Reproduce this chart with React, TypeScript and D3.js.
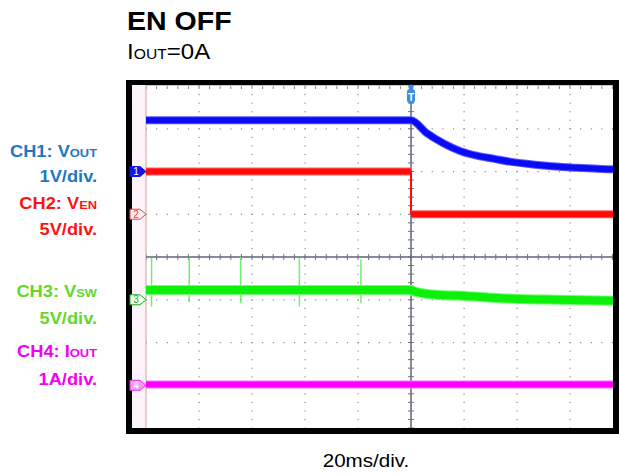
import * as d3 from 'd3';

const W = 619;
const H = 475;
const SX = 1.12; // the screenshot is stretched a little horizontally

const title = 'EN OFF';
const loadMain = 'I';
const loadSub = 'OUT';
const loadValue = '=0A';
const timeBase = '20ms/div.';

// channel setup
const channelNames = ['CH1', 'CH2', 'CH3', 'CH4'];
const signalBase = ['V', 'V', 'V', 'I'];
const signalSub = ['OUT', 'EN', 'SW', 'OUT'];
const scaleLabels = ['1V/div.', '5V/div.', '5V/div.', '1A/div.'];
const unitsPerDiv = [1, 5, 5, 1];
const groundDiv = [2, 1, -1, -3];

// CH1 VOUT (ms, V)
const voutT = [-100, 0, 5.9, 12.2, 18.5, 24.8, 31.1, 37.4, 43.7, 50.0, 56.2, 62.5, 68.8, 76.2, 80];
const voutV = [1.2, 1.2, 0.9, 0.66, 0.48, 0.37, 0.3, 0.23, 0.18, 0.14, 0.11, 0.09, 0.07, 0.05, 0.045];

// CH2 VEN (ms, V)
const venT = [-100, 0, 0, 80];
const venV = [5, 5, 0, 0];

// CH3 VSW (ms, V)
const vswT = [-100, 0, 0.5, 4.6, 10.9, 20.6, 31, 40.5, 51.2, 60.6, 76.2, 80];
const vswV = [1.14, 1.14, 1.06, 0.75, 0.56, 0.44, 0.24, 0.09, 0.02, -0.03, -0.11, -0.12];
const spikeT = [-97.9, -83.7, -64.3, -42.1, -18.9];
const spikeHigh = [4.9, 4.9, 5.0, 4.9, 4.7];
const spikeLow = [-0.8, -0.25, -0.4, -0.8, -0.4];

// CH4 IOUT (ms, A)
const ioutT = [-100, 80];
const ioutV = [0.02, 0.02];

const traceColors = ['#0a0af5', '#ff0a0a', '#0cf00c', '#ff00ff'];
const traceHalo = ['#5a5aff', '#ff6060', '#70ff70', '#ff70ff'];
const traceWidths = [6, 6, 8, 6];
const labelColors = ['#1d78c4', '#ff1212', '#63d82a', '#f200f2'];
const markerFill = ['#1414e6', '#fff0f0', '#f0fff0', '#f49cf4'];
const markerStroke = ['#1414e6', '#ff3c3c', '#28a828', '#e030e0'];
const markerText = ['#ffffff', '#ff3030', '#28a828', '#ffffff'];

const gLeft = 146;
const gTop = 86;
const gBottom = 428;
const divW = 53;

const x = d3.scaleLinear().domain([-100, 100]).range([gLeft, gLeft + 10 * divW]);
const yd = d3.scaleLinear().domain([-4, 4]).range([gBottom, gTop]);
const clipRight = 613;

const chY = (ch: number, v: number) => yd(groundDiv[ch] + v / unitsPerDiv[ch]);

function tracePath(ch: number, ts: number[], vs: number[]) {
  const line = d3.line<number>().x(i => x(ts[i])).y(i => chY(ch, vs[i]));
  return line(d3.range(ts.length)) || '';
}

const font = '"Liberation Sans", Arial, Helvetica, sans-serif';
const labelBaselines = [[157, 182], [209, 235], [297, 324], [357, 385]];

export default function App() {
  const rowDivs = d3.range(-3, 4).filter(d => d !== 0);
  const colTimes = d3.range(-80, 101, 20).filter(t => t !== 0);
  const fineT = d3.range(-100, 100.01, 4);
  const fineD = d3.range(-4, 4.01, 0.2);

  const curve = d3.line<number>().x(i => x(voutT[i])).y(i => chY(0, voutV[i])).curve(d3.curveMonotoneX);
  const voutPath = curve(d3.range(voutT.length)) || '';
  const swCurve = d3.line<number>().x(i => x(vswT[i])).y(i => chY(2, vswV[i])).curve(d3.curveMonotoneX);
  const vswPath = swCurve(d3.range(vswT.length)) || '';

  const venSegs = d3.range(venT.length - 1).map(i => ({
    x1: x(venT[i]), y1: chY(1, venV[i]), x2: x(venT[i + 1]), y2: chY(1, venV[i + 1]),
    vertical: venT[i] === venT[i + 1],
  }));

  const markerPath = (yc: number) => `M130,${yc - 5} H140 L146,${yc} L140,${yc + 5} H130 Z`;

  return (
    <svg width={W} height={H} style={{ position: 'absolute', left: 0, top: 0, background: '#fff' }} fontFamily={font}>
      <defs>
        <clipPath id="plotClip">
          <rect x={gLeft} y={85} width={clipRight - gLeft} height={gBottom - 85} />
        </clipPath>
      </defs>

      {/* header */}
      <text transform={`translate(127,30) scale(${SX},1)`} fontSize={25.5} fontWeight="bold" fill="#000">{title}</text>
      <text transform={`translate(127,59) scale(${SX},1)`} fontSize={21.5} fill="#000">
        {loadMain}<tspan fontSize={14}>{loadSub}</tspan>{loadValue}
      </text>

      {/* scope frame */}
      <rect x={126} y={80} width={493} height={354} fill="#000" />
      <rect x={132} y={85} width={clipRight - 132} height={gBottom - 85} fill="#fff" />
      <rect x={132} y={85} width={gLeft - 132} height={gBottom - 85} fill="#fcf3fa" />
      <line x1={gLeft} x2={clipRight} y1={85.5} y2={85.5} stroke="#dcc3b0" strokeWidth={1} />
      <line x1={gLeft} x2={gLeft} y1={85} y2={gBottom} stroke="#d9b3a4" strokeWidth={1.2} />

      <g clipPath="url(#plotClip)">
        {/* dotted graticule */}
        {rowDivs.map(d => fineT.map(t => (
          <rect key={`r${d}_${t}`} x={x(t) - 0.5} y={yd(d) - 0.5} width={1.2} height={1.2} fill="#8a8a8a" />
        )))}
        {colTimes.map(t => fineD.map(d => (
          <rect key={`c${t}_${d}`} x={x(t) - 0.5} y={yd(d) - 0.5} width={1.2} height={1.2} fill="#8a8a8a" />
        )))}
        {fineT.map(t => (
          <line key={`top${t}`} x1={x(t)} x2={x(t)} y1={86} y2={89} stroke="#8a8a8a" strokeWidth={1} />
        ))}
        {/* center cross */}
        <line x1={gLeft} x2={clipRight} y1={yd(0)} y2={yd(0)} stroke="#5e6577" strokeWidth={1.5} />
        <line x1={x(0)} x2={x(0)} y1={gTop} y2={gBottom} stroke="#5e6577" strokeWidth={1.5} />
        {fineT.map(t => (
          <line key={`hx${t}`} x1={x(t)} x2={x(t)} y1={yd(0) - 3} y2={yd(0) + 3} stroke="#6b7284" strokeWidth={1} />
        ))}
        {fineD.map(d => (
          <line key={`vx${d}`} x1={x(0) - 3} x2={x(0) + 3} y1={yd(d)} y2={yd(d)} stroke="#6b7284" strokeWidth={1} />
        ))}

        {/* CH4 IOUT */}
        <path d={tracePath(3, ioutT, ioutV)} fill="none" stroke={traceHalo[3]} strokeWidth={traceWidths[3] + 2} />
        <path d={tracePath(3, ioutT, ioutV)} fill="none" stroke={traceColors[3]} strokeWidth={traceWidths[3]} />

        {/* CH3 VSW */}
        {spikeT.map((t, i) => (
          <line key={`sp${i}`} x1={x(t)} x2={x(t)} y1={chY(2, spikeHigh[i])} y2={chY(2, spikeLow[i])} stroke="#6cf06c" strokeWidth={1.5} />
        ))}
        <path d={vswPath} fill="none" stroke={traceHalo[2]} strokeWidth={traceWidths[2] + 2} />
        <path d={vswPath} fill="none" stroke={traceColors[2]} strokeWidth={traceWidths[2]} />

        {/* CH2 VEN */}
        {venSegs.map((s, i) => (
          <g key={`en${i}`}>
            {!s.vertical && <line x1={s.x1} x2={s.x2} y1={s.y1} y2={s.y2} stroke={traceHalo[1]} strokeWidth={traceWidths[1] + 2} />}
            <line x1={s.x1} x2={s.x2} y1={s.y1} y2={s.y2} stroke={traceColors[1]} strokeWidth={s.vertical ? 2 : traceWidths[1]} />
          </g>
        ))}

        {/* CH1 VOUT */}
        <path d={voutPath} fill="none" stroke={traceHalo[0]} strokeWidth={traceWidths[0] + 2} />
        <path d={voutPath} fill="none" stroke={traceColors[0]} strokeWidth={traceWidths[0]} />
      </g>

      {/* trigger marker */}
      <circle cx={x(0)} cy={87} r={2.5} fill="#3b8de3" />
      <rect x={x(0) - 4} y={89} width={8} height={14} rx={3} fill="#3b8de3" />
      <text x={x(0)} y={100.5} textAnchor="middle" fontSize={10} fontWeight="bold" fill="#fff">T</text>

      {/* channel ground markers */}
      {channelNames.map((c, i) => {
        const yc = chY(i, 0);
        return (
          <g key={`m${c}`}>
            <path d={markerPath(yc)} fill={markerFill[i]} stroke={markerStroke[i]} strokeWidth={1} />
            <text x={136} y={yc + 3.5} textAnchor="middle" fontSize={10} fill={markerText[i]}>{i + 1}</text>
          </g>
        );
      })}

      {/* channel labels */}
      {channelNames.map((c, i) => (
        <g key={`l${c}`} fill={labelColors[i]} fontWeight="bold">
          <text transform={`translate(97,${labelBaselines[i][0]}) scale(${SX},1)`} textAnchor="end" fontSize={16.3}>
            {c}: {signalBase[i]}<tspan fontSize={11.5}>{signalSub[i]}</tspan>
          </text>
          <text transform={`translate(97,${labelBaselines[i][1]}) scale(${SX},1)`} textAnchor="end" fontSize={16.3}>
            {scaleLabels[i]}
          </text>
        </g>
      ))}

      {/* time base */}
      <text transform={`translate(366,466.5) scale(${SX},1)`} textAnchor="middle" fontSize={18.4} fill="#000">{timeBase}</text>
    </svg>
  );
}
